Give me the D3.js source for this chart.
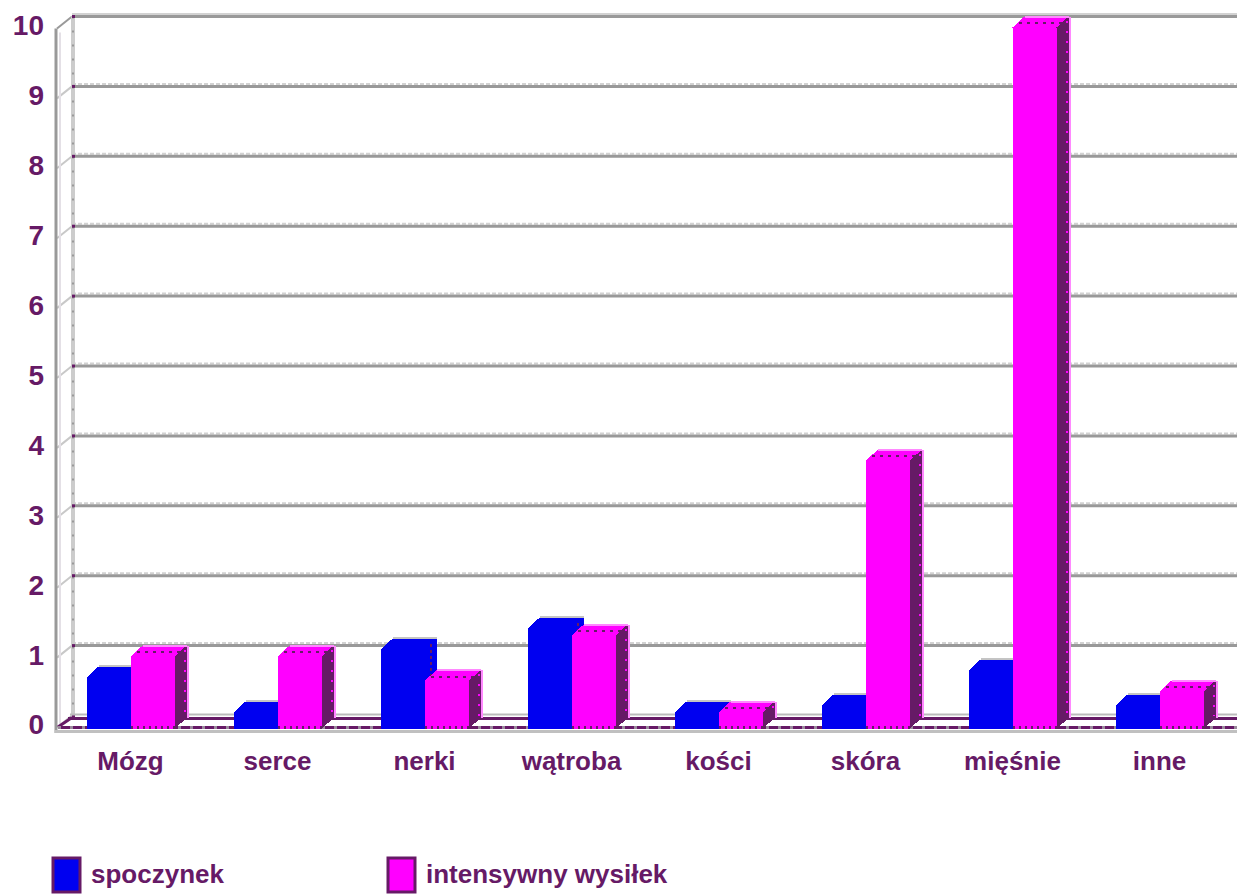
<!DOCTYPE html>
<html>
<head>
<meta charset="utf-8">
<script src="https://cdn.jsdelivr.net/npm/d3@7"></script>
<style>
  body { margin: 0; background: #fff; }
  svg text { font-family: "Liberation Sans", Arial, sans-serif; font-weight: bold; fill: #661a66; }
</style>
</head>
<body>
<svg id="chart" width="1237" height="895"></svg>
<script>
// Przepływ krwi przez narządy: spoczynek vs intensywny wysiłek
const categories = ["Mózg", "serce", "nerki", "wątroba", "kości", "skóra", "mięśnie", "inne"];
const restValues = [0.7, 0.2, 1.1, 1.4, 0.2, 0.3, 0.8, 0.3];
const exerciseValues = [1.0, 1.0, 0.65, 1.3, 0.2, 3.8, 10, 0.5];
const seriesNames = ["spoczynek", "intensywny wysiłek"];
const yTickValues = [0, 1, 2, 3, 4, 5, 6, 7, 8, 9, 10];

const W = 1237, H = 895;
const BLUE = "#0000f0", MAGENTA = "#ff00ff", PURPLE = "#661a66";
const GRID = "#999999", GRID_LIGHT = "#d2d2d2";
const DX = 12, DY = -11;          // bar depth (top / side faces)
const WALL_X_FRONT = 56, WALL_X_BACK = 72;
const FLOOR_FRONT = 729;

const svg = d3.select("#chart");

// back-wall value scale and the matching front-plane scale for labels
const y = d3.scaleLinear().domain([0, 10]).range([715.5, 16.5]);
const yFront = d3.scaleLinear().domain([0, 10]).range([725, 26]);
const x = d3.scaleBand().domain(categories).range([57, 57 + 147 * categories.length]);
const inner = d3.scaleBand().domain(seriesNames).range([-44, 44]);

const series = [
  { name: seriesNames[0], values: restValues, fill: BLUE, side: BLUE },
  { name: seriesNames[1], values: exerciseValues, fill: MAGENTA, side: PURPLE }
];

// --- back wall gridlines ---
const grid = svg.append("g");
yTickValues.filter(v => v > 0).forEach(v => {
  grid.append("line").attr("x1", WALL_X_BACK).attr("x2", W)
    .attr("y1", y(v) - 2.5).attr("y2", y(v) - 2.5)
    .attr("stroke", GRID_LIGHT).attr("stroke-width", 2)
    .attr("stroke-dasharray", v === 10 ? null : "4,2");
  grid.append("line").attr("x1", WALL_X_BACK).attr("x2", W)
    .attr("y1", y(v)).attr("y2", y(v))
    .attr("stroke", GRID).attr("stroke-width", 3);
});

// --- left side wall ---
const wall = svg.append("g");
yTickValues.forEach(v => {
  wall.append("line")
    .attr("x1", WALL_X_BACK).attr("y1", y(v))
    .attr("x2", WALL_X_FRONT + 1).attr("y2", y(v) + 12)
    .attr("stroke", v === 10 ? GRID : "#c8c8c8").attr("stroke-width", 2);
});
wall.append("line").attr("x1", WALL_X_BACK + 1).attr("x2", WALL_X_BACK + 1)
  .attr("y1", y(10)).attr("y2", y(0) + 2)
  .attr("stroke", "#cccccc").attr("stroke-width", 4);
wall.append("line").attr("x1", WALL_X_BACK + 1).attr("x2", WALL_X_BACK + 1)
  .attr("y1", y(10)).attr("y2", y(0) + 2)
  .attr("stroke", GRID).attr("stroke-width", 2).attr("stroke-dasharray", "2,12");
wall.append("line").attr("x1", WALL_X_FRONT + 4).attr("x2", WALL_X_FRONT + 4)
  .attr("y1", y(10) + 16).attr("y2", FLOOR_FRONT)
  .attr("stroke", "#e4e0e6").attr("stroke-width", 2);
wall.append("line").attr("x1", WALL_X_FRONT).attr("x2", WALL_X_FRONT)
  .attr("y1", y(10) + 12).attr("y2", FLOOR_FRONT + 4)
  .attr("stroke", GRID).attr("stroke-width", 3);
yTickValues.forEach(v => {
  wall.append("rect").attr("x", WALL_X_BACK).attr("y", y(v) - 1.5)
    .attr("width", 3).attr("height", 3).attr("fill", PURPLE);
});

// --- floor ---
const floor = svg.append("g");
floor.append("line").attr("x1", WALL_X_BACK - 2).attr("x2", W)
  .attr("y1", y(0) - 1).attr("y2", y(0) - 1)
  .attr("stroke", "#bbbbbb").attr("stroke-width", 2);
floor.append("line").attr("x1", WALL_X_BACK - 4).attr("x2", W)
  .attr("y1", y(0) + 3).attr("y2", y(0) + 3)
  .attr("stroke", PURPLE).attr("stroke-width", 3);
floor.append("line").attr("x1", WALL_X_BACK).attr("y1", y(0) + 2)
  .attr("x2", WALL_X_FRONT + 2).attr("y2", FLOOR_FRONT - 2)
  .attr("stroke", PURPLE).attr("stroke-width", 3);
floor.append("line").attr("x1", WALL_X_FRONT + 2).attr("x2", W)
  .attr("y1", FLOOR_FRONT - 1.5).attr("y2", FLOOR_FRONT - 1.5)
  .attr("stroke", PURPLE).attr("stroke-width", 3);
floor.append("line").attr("x1", WALL_X_FRONT + 2).attr("x2", W)
  .attr("y1", FLOOR_FRONT - 1.5).attr("y2", FLOOR_FRONT - 1.5)
  .attr("stroke", "#9a8a9c").attr("stroke-width", 3).attr("stroke-dasharray", "3,9");

// --- 3D bars ---
const bars = svg.append("g").attr("shape-rendering", "crispEdges");
categories.forEach((cat, i) => {
  series.forEach(s => {
    const v = s.values[i];
    const w = inner.bandwidth();
    const x0 = x(cat) + x.bandwidth() / 2 + inner(s.name);
    const ft = y(v) - DY;           // front top edge
    const fb = FLOOR_FRONT;
    const g = bars.append("g");
    // side face
    g.append("path")
      .attr("d", `M${x0 + w},${ft}L${x0 + w + DX},${ft + DY}L${x0 + w + DX},${fb + DY}L${x0 + w},${fb}Z`)
      .attr("fill", s.side);
    // top face
    g.append("path")
      .attr("d", `M${x0},${ft}L${x0 + DX},${ft + DY}L${x0 + w + DX},${ft + DY}L${x0 + w},${ft}Z`)
      .attr("fill", s.fill);
    // front face
    g.append("rect").attr("x", x0).attr("y", ft).attr("width", w).attr("height", fb - ft)
      .attr("fill", s.fill);
    if (s.fill === MAGENTA) {
      g.append("line").attr("x1", x0 + w + DX + 1).attr("x2", x0 + w + DX + 1)
        .attr("y1", ft + DY).attr("y2", fb + DY)
        .attr("stroke", "#ff88ff").attr("stroke-width", 2);
      g.append("line").attr("x1", x0 + w + DX - 2).attr("x2", x0 + w + DX - 2)
        .attr("y1", ft + DY + 4).attr("y2", fb + DY - 2)
        .attr("stroke", MAGENTA).attr("stroke-width", 2).attr("stroke-dasharray", "2,8");
      g.append("line").attr("x1", x0 + DX / 2).attr("x2", x0 + w + DX / 2)
        .attr("y1", ft + DY / 2 + 1).attr("y2", ft + DY / 2 + 1)
        .attr("stroke", PURPLE).attr("stroke-width", 2).attr("stroke-dasharray", "3,5");
      g.append("line").attr("x1", x0 + DX).attr("x2", x0 + w + DX)
        .attr("y1", ft + DY).attr("y2", ft + DY)
        .attr("stroke", "#ff88ff").attr("stroke-width", 2);
      g.append("line").attr("x1", x0).attr("x2", x0 + w)
        .attr("y1", fb - 1.5).attr("y2", fb - 1.5)
        .attr("stroke", PURPLE).attr("stroke-width", 3).attr("stroke-dasharray", "2,4");
    } else {
      g.append("line").attr("x1", x0 + w + DX / 2).attr("x2", x0 + w + DX / 2)
        .attr("y1", ft + DY / 2).attr("y2", fb)
        .attr("stroke", PURPLE).attr("stroke-width", 2).attr("stroke-dasharray", "3,3");
      g.append("line").attr("x1", x0 + DX).attr("x2", x0 + w + DX)
        .attr("y1", ft + DY - 1).attr("y2", ft + DY - 1)
        .attr("stroke", "#c4c4c4").attr("stroke-width", 2);
    }
  });
});

// gray base line under the floor
svg.append("line").attr("x1", WALL_X_FRONT - 1).attr("x2", W)
  .attr("y1", FLOOR_FRONT + 2.5).attr("y2", FLOOR_FRONT + 2.5)
  .attr("stroke", "#c0c0c0").attr("stroke-width", 3);

// --- value axis labels ---
svg.append("g").attr("transform", "translate(50,0)")
  .call(d3.axisLeft(yFront).tickValues(yTickValues).tickSize(0).tickPadding(6).tickFormat(d3.format("d")))
  .call(g => g.select(".domain").remove())
  .selectAll("text").style("font-size", "28px");

// --- category labels ---
svg.append("g").attr("transform", "translate(0,745)")
  .call(d3.axisBottom(x).tickSize(0).tickPadding(6.5))
  .call(g => g.select(".domain").remove())
  .selectAll("text").style("font-size", "26px");

// --- legend ---
const legend = svg.append("g");
const legendX = [53, 388];
series.forEach((s, i) => {
  const lg = legend.append("g").attr("transform", `translate(${legendX[i]},858)`);
  lg.append("rect").attr("x", 0).attr("y", 0).attr("width", 27).attr("height", 34)
    .attr("fill", s.fill).attr("stroke", PURPLE).attr("stroke-width", 3);
  lg.append("text").attr("x", 38).attr("y", 25).style("font-size", "26px").text(s.name);
});
</script>
</body>
</html>
